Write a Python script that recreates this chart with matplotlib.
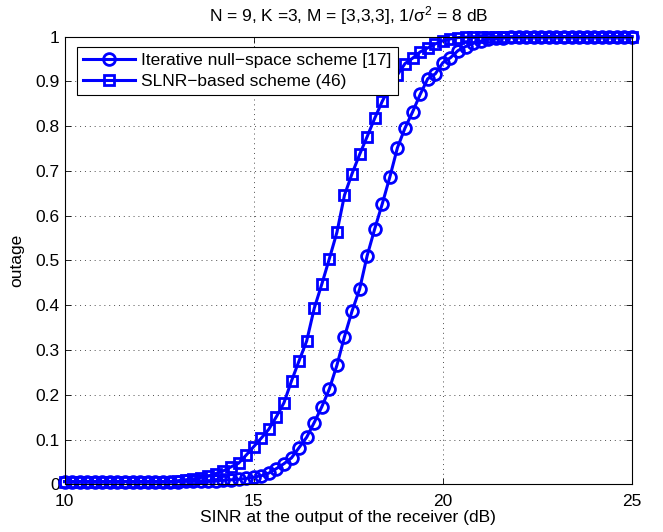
import numpy as np
import matplotlib
matplotlib.use("Agg")
import matplotlib.pyplot as plt

#------------------------------------------- DATA -------------------------------------------#

sinr_db = np.round(np.arange(10.0, 25.0001, 0.2), 1)  # 10:0.2:25 dB

outage_nullspace = [
    0.006, 0.006, 0.006, 0.006, 0.006, 0.006, 0.006, 0.006, 0.006, 0.006,   # 10.0 - 11.8
    0.006, 0.006, 0.006, 0.006, 0.006, 0.006, 0.007, 0.007, 0.007, 0.008,   # 12.0 - 13.8
    0.008, 0.009, 0.010, 0.011, 0.013, 0.016, 0.019, 0.025, 0.035, 0.046,   # 14.0 - 15.8
    0.059, 0.082, 0.105, 0.138, 0.173, 0.213, 0.266, 0.330, 0.387, 0.436,   # 16.0 - 17.8
    0.511, 0.571, 0.627, 0.687, 0.752, 0.796, 0.832, 0.871, 0.906, 0.917,   # 18.0 - 19.8
    0.942, 0.953, 0.969, 0.978, 0.985, 0.990, 0.994, 0.996, 0.998, 0.999,   # 20.0 - 21.8
    1.0, 1.0, 1.0, 1.0, 1.0, 1.0, 1.0, 1.0, 1.0, 1.0,                       # 22.0 - 23.8
    1.0, 1.0, 1.0, 1.0, 1.0, 1.0,                                           # 24.0 - 25.0
]

outage_slnr = [
    0.006, 0.006, 0.006, 0.006, 0.006, 0.006, 0.006, 0.006, 0.006, 0.006,   # 10.0 - 11.8
    0.006, 0.006, 0.006, 0.006, 0.006, 0.008, 0.010, 0.012, 0.015, 0.018,   # 12.0 - 13.8
    0.024, 0.030, 0.039, 0.047, 0.065, 0.084, 0.103, 0.123, 0.151, 0.182,   # 14.0 - 15.8
    0.231, 0.276, 0.320, 0.393, 0.447, 0.504, 0.563, 0.646, 0.694, 0.737,   # 16.0 - 17.8
    0.777, 0.818, 0.856, 0.888, 0.915, 0.940, 0.952, 0.966, 0.975, 0.984,   # 18.0 - 19.8
    0.991, 0.995, 0.998, 0.999, 1.0, 1.0, 1.0, 1.0, 1.0, 1.0,               # 20.0 - 21.8
    1.0, 1.0, 1.0, 1.0, 1.0, 1.0, 1.0, 1.0, 1.0, 1.0,                       # 22.0 - 23.8
    1.0, 1.0, 1.0, 1.0, 1.0, 1.0,                                           # 24.0 - 25.0
]

x_ticks = [10, 15, 20, 25]
y_ticks = np.round(np.arange(0, 1.01, 0.1), 1)
y_tick_labels = ["0", "0.1", "0.2", "0.3", "0.4", "0.5", "0.6", "0.7", "0.8", "0.9", "1"]

#------------------------------------------------- PLOT -------------------------------------------------------#

plt.rcParams["font.family"] = ["Liberation Sans", "DejaVu Sans"]
plt.rcParams["mathtext.fontset"] = "custom"
plt.rcParams["mathtext.rm"] = "Liberation Sans"
plt.rcParams["mathtext.it"] = "Liberation Sans"

fs = 12.5

fig = plt.figure(figsize=(6.63, 5.32), dpi=100)
ax = fig.add_axes([0.0973, 0.0897, 0.856, 0.8413])

ax.plot(sinr_db, outage_nullspace, "-o", color="blue", lw=2.2, ms=8.5,
        mfc="none", mec="blue", mew=2.0, clip_on=False,
        label="Iterative null\u2212space scheme [17]")
ax.plot(sinr_db, outage_slnr, "-s", color="blue", lw=2.2, ms=7,
        mfc="none", mec="blue", mew=2.0, clip_on=False,
        label="SLNR\u2212based scheme (46)")

ax.set_xlim(10, 25)
ax.set_ylim(0, 1)
ax.set_xticks(x_ticks)
ax.set_yticks(y_ticks)
ax.set_yticklabels(y_tick_labels)
ax.tick_params(direction="in", top=True, right=True, labelsize=fs, length=4, width=0.6)
ax.tick_params(axis="x", pad=7)
for s in ax.spines.values():
    s.set_linewidth(0.8)
ax.grid(True, ls=(0, (1, 4)), lw=0.7, color="0.3")

ax.set_xlabel("SINR at the output of the receiver (dB)", fontsize=fs, labelpad=1)
ax.set_ylabel("outage", fontsize=fs, labelpad=8)
ax.set_title(r"N = 9, K =3, M = [3,3,3], 1/$\sigma^2$ = 8 dB", fontsize=fs, pad=11)

leg = ax.legend(loc="upper left", bbox_to_anchor=(0.022, 0.978), fontsize=fs,
                fancybox=False, framealpha=1, edgecolor="black", handlelength=3.0,
                borderpad=0.35, labelspacing=0.35, handletextpad=0.35, borderaxespad=0)
leg.get_frame().set_linewidth(0.8)
leg.set_zorder(5)

fig.savefig("out.png", dpi=100)
